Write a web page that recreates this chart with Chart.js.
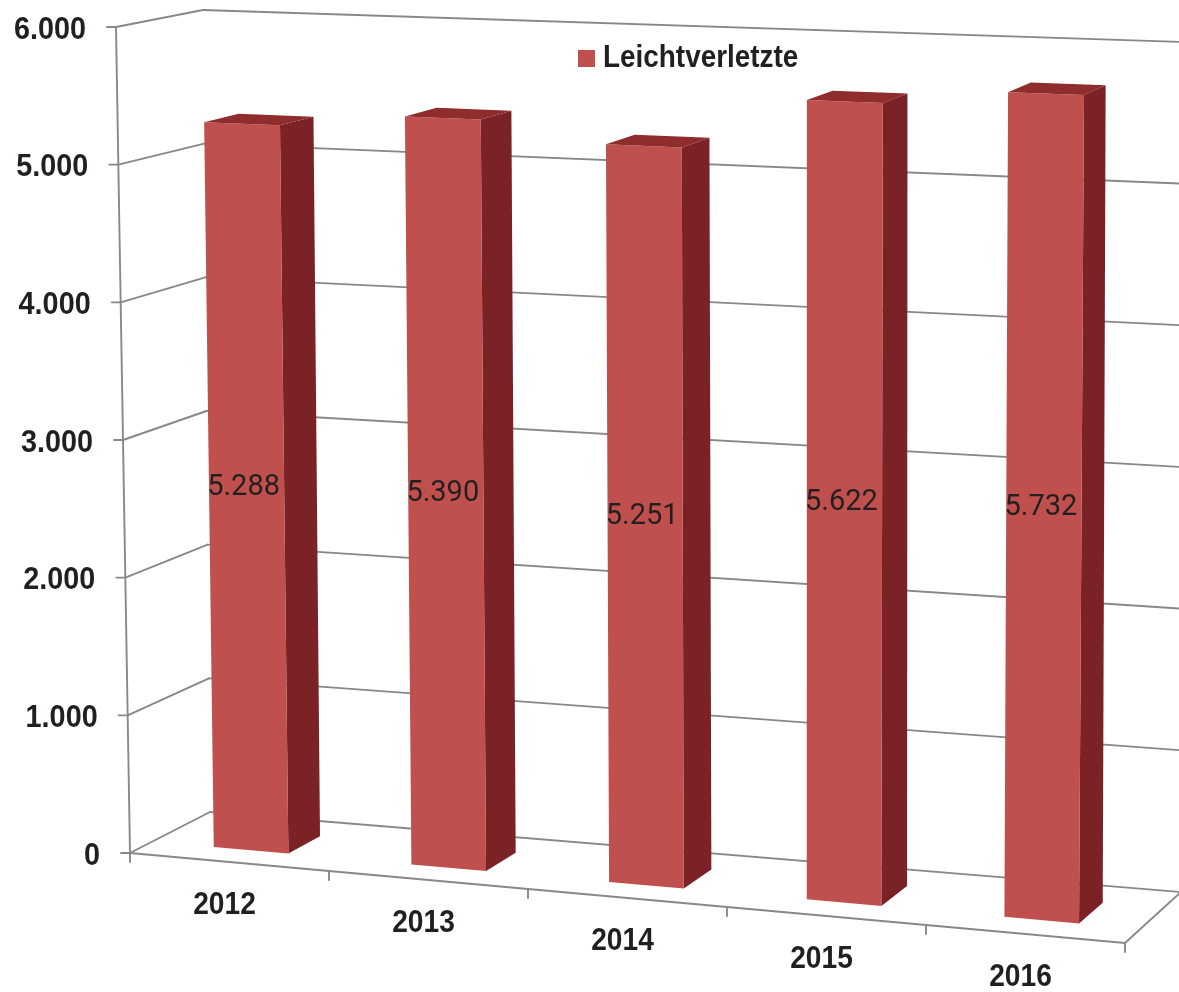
<!DOCTYPE html>
<html lang="de">
<head>
<meta charset="utf-8">
<title>Leichtverletzte 2012–2016</title>
<script src="https://cdn.jsdelivr.net/npm/chart.js@4.4.1/dist/chart.umd.min.js"></script>
<style>
  html, body { margin: 0; padding: 0; background: #ffffff; }
  #chart { display: block; }
</style>
</head>
<body>
<canvas id="chart" width="1179" height="992"></canvas>
<script>
// Data
const categories = ['2012', '2013', '2014', '2015', '2016'];
const leichtverletzte = [5288, 5390, 5251, 5622, 5732];
const seriesLabel = 'Leichtverletzte';
const yTickValues = [0, 1000, 2000, 3000, 4000, 5000, 6000];
const yTickLabels = ['0', '1.000', '2.000', '3.000', '4.000', '5.000', '6.000'];

// German thousands separator for the value labels
function formatDe(n) {
  return String(n).replace(/\B(?=(\d{3})+(?!\d))/g, '.');
}

// 3D box: corners of the front plane and back wall on the page (u = category axis, v = value axis)
const FRONT = { b0: [130, 853], b1: [1125, 943], t0: [116, 27], t1: [1133, 65] };
const BACK  = { b0: [210, 812], b1: [1181, 892], t0: [203, 10], t1: [1183, 42] };
const BAR_FRONT = 0.278, BAR_BACK = 0.69;   // depth of the columns (0 = front, 1 = back)

const COLORS = {
  front: '#C0504D', side: '#7A2226', top: '#8F2C2C',
  grid: '#888888', text: '#231f20'
};
const LABEL_FONT = 'bold 32px "Liberation Sans", Arial, sans-serif';
const VALUE_FONT = '29px Roboto, "Liberation Sans", sans-serif';

function bilerp(q, u, v) {
  const a = (1 - u) * (1 - v), b = u * (1 - v), c = (1 - u) * v, d = u * v;
  return [
    a * q.b0[0] + b * q.b1[0] + c * q.t0[0] + d * q.t1[0],
    a * q.b0[1] + b * q.b1[1] + c * q.t0[1] + d * q.t1[1]
  ];
}
function project(u, v, w) {
  const f = bilerp(FRONT, u, v), k = bilerp(BACK, u, v);
  return [f[0] + (k[0] - f[0]) * w, f[1] + (k[1] - f[1]) * w];
}

function line(ctx, p, q) {
  ctx.beginPath(); ctx.moveTo(p[0], p[1]); ctx.lineTo(q[0], q[1]); ctx.stroke();
}
function poly(ctx, pts, fill) {
  ctx.beginPath();
  ctx.moveTo(pts[0][0], pts[0][1]);
  for (let i = 1; i < pts.length; i++) ctx.lineTo(pts[i][0], pts[i][1]);
  ctx.closePath();
  ctx.fillStyle = fill;
  ctx.fill();
}
function text(ctx, str, x, y, font, align, squeeze) {
  ctx.save();
  ctx.translate(x, y);
  ctx.scale(squeeze, 1);
  ctx.font = font;
  ctx.textAlign = align;
  ctx.textBaseline = 'middle';
  ctx.fillStyle = COLORS.text;
  ctx.fillText(str, 0, 0);
  ctx.restore();
}

const scene3d = {
  id: 'scene3d',
  afterDatasetsDraw(chart) {
    const ctx = chart.ctx;
    const area = chart.chartArea;
    const xs = chart.scales.x, ys = chart.scales.y;
    const U = px => (px - area.left) / (area.right - area.left);
    const V = val => (area.bottom - ys.getPixelForValue(val)) / (area.bottom - area.top);
    const n = categories.length;

    ctx.save();
    ctx.lineCap = 'round';
    ctx.strokeStyle = COLORS.grid;
    ctx.lineWidth = 1.9;

    // gridlines on the side wall and the back wall
    yTickValues.forEach(val => {
      const v = V(val);
      line(ctx, project(0, v, 0), project(0, v, 1));
      line(ctx, project(0, v, 1), project(1, v, 1));
    });
    // floor outline
    line(ctx, project(0, 0, 0), project(1, 0, 0));
    line(ctx, project(1, 0, 0), project(1, 0, 1));
    // value axis
    line(ctx, project(0, 0, 0), project(0, 1, 0));
    // value axis tick marks
    yTickValues.forEach(val => {
      const p = project(0, V(val), 0);
      line(ctx, [p[0] - 9, p[1]], p);
    });
    // category axis tick marks at category boundaries
    const step = xs.getPixelForValue(1) - xs.getPixelForValue(0);
    const first = xs.getPixelForValue(0) - step / 2;
    for (let k = 0; k <= n; k++) {
      const p = project(U(first + k * step), 0, 0);
      line(ctx, p, [p[0], p[1] + 9]);
    }
    ctx.restore();

    // columns
    const meta = chart.getDatasetMeta(0);
    meta.data.forEach((bar, i) => {
      const props = bar.getProps(['x', 'width'], true);
      const ul = U(props.x - props.width / 2), ur = U(props.x + props.width / 2);
      const vt = V(leichtverletzte[i]), vb = V(0);
      const fw = BAR_FRONT, bw = BAR_BACK;
      // right side face
      poly(ctx, [project(ur, vb, fw), project(ur, vb, bw), project(ur, vt, bw), project(ur, vt, fw)], COLORS.side);
      // front face
      poly(ctx, [project(ul, vb, fw), project(ur, vb, fw), project(ur, vt, fw), project(ul, vt, fw)], COLORS.front);
      // top face
      poly(ctx, [project(ul, vt, fw), project(ur, vt, fw), project(ur, vt, bw), project(ul, vt, bw)], COLORS.top);
      // value label in the middle of the front face
      const c = project(U(props.x), vt / 2, fw);
      text(ctx, formatDe(leichtverletzte[i]), c[0] - 3, c[1] + 1, VALUE_FONT, 'center', 1);
    });

    // value axis labels
    yTickValues.forEach((val, i) => {
      const p = project(0, V(val), 0);
      text(ctx, yTickLabels[i], p[0] - 30, p[1] + 3, LABEL_FONT, 'right', 0.9);
    });
    // category labels
    categories.forEach((cat, i) => {
      const p = project(U(xs.getPixelForValue(i)), 0, 0);
      text(ctx, cat, p[0] - 5, p[1] + 43, LABEL_FONT, 'center', 0.88);
    });

    // legend
    ctx.fillStyle = COLORS.front;
    ctx.fillRect(578, 50, 17, 17);
    text(ctx, seriesLabel, 603, 58, 'bold 31px "Liberation Sans", Arial, sans-serif', 'left', 0.9);
  }
};

new Chart(document.getElementById('chart'), {
  type: 'bar',
  data: {
    labels: categories,
    datasets: [{
      label: seriesLabel,
      data: leichtverletzte,
      backgroundColor: 'rgba(0,0,0,0)',
      borderWidth: 0,
      categoryPercentage: 1,
      barPercentage: 0.3775
    }]
  },
  options: {
    responsive: false,
    animation: false,
    events: [],
    layout: { padding: 0 },
    plugins: { legend: { display: false }, tooltip: { enabled: false } },
    scales: {
      x: { grid: { display: false }, border: { display: false }, ticks: { display: false } },
      y: {
        min: 0, max: 6000,
        grid: { display: false }, border: { display: false },
        ticks: { display: false, stepSize: 1000 }
      }
    }
  },
  plugins: [scene3d]
});
</script>
</body>
</html>
